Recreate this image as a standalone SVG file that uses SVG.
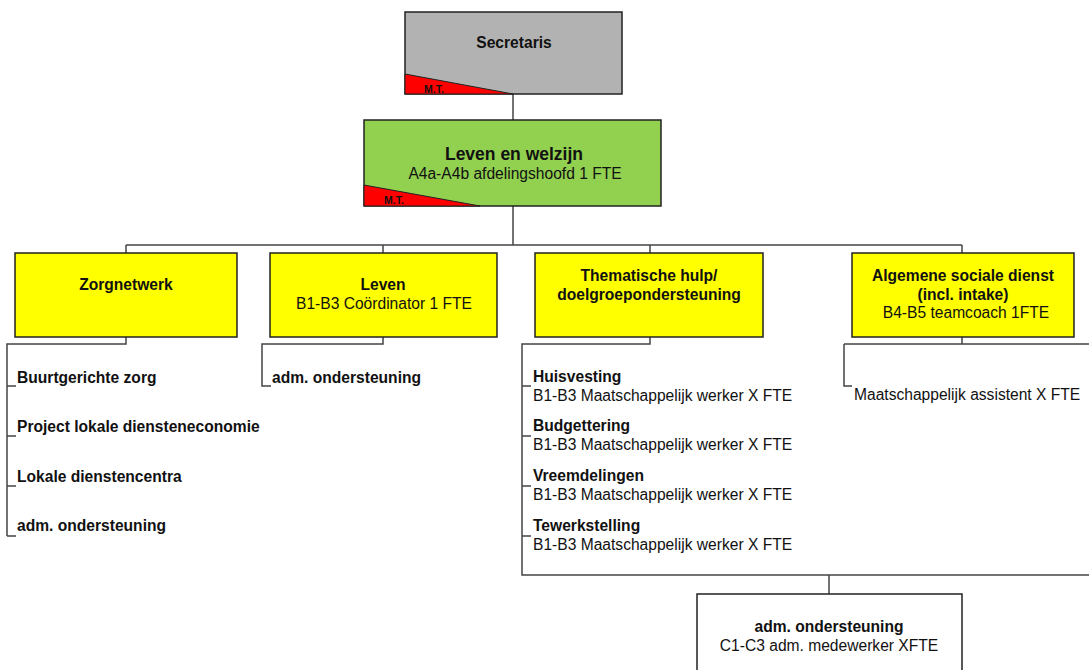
<svg xmlns="http://www.w3.org/2000/svg" width="1089" height="670" viewBox="0 0 1089 670">
<style>
.box{stroke:#222;stroke-width:1.5}
.mt{fill:#ff0000;stroke:#222;stroke-width:1}
.ln{fill:none;stroke:#444;stroke-width:1.5}
text{font-family:"Liberation Sans",Arial,sans-serif;font-size:15.6px;fill:#111}
.b{font-weight:bold}
.c{text-anchor:middle}
.s{font-size:10.5px;font-weight:bold}
</style>
<rect width="1089" height="670" fill="#fff"/>
<g id="connectors">
<path class="ln" d="M513 94V120M513 206V245M126 245H962M126 245V253M383 245V253M650 245V253M962 245V253"/>
<path class="ln" d="M126 337V344H7V536M7 386H16M7 436H16M7 486H16M7 536H16"/>
<path class="ln" d="M383 337V344H262V386H271"/>
<path class="ln" d="M650 337V344H522V575H1089M522 386H531M522 436H531M522 486H531M522 536H531M829 575V594"/>
<path class="ln" d="M962 337V344M844 344H1089M844 344V386H852"/>
</g>
<g id="secretaris">
<rect class="box" x="405" y="12" width="217" height="82" fill="#b2b2b2"/>
<polygon class="mt" points="405,74 513,94 405,94"/>
<text class="s" x="424" y="93">M.T.</text>
<text class="b c" x="514" y="48">Secretaris</text>
</g>
<g id="leven-en-welzijn">
<rect class="box" x="364" y="120" width="297" height="86" fill="#92d050"/>
<polygon class="mt" points="364,185 480,206 364,206"/>
<text class="s" x="384" y="204">M.T.</text>
<text class="b c" x="514" y="160" style="font-size:17.5px">Leven en welzijn</text>
<text class="c" x="515" y="179">A4a-A4b afdelingshoofd 1 FTE</text>
</g>
<g id="zorgnetwerk">
<rect class="box" x="15" y="253" width="222" height="84" fill="#ffff00"/>
<text class="b c" x="126" y="290">Zorgnetwerk</text>
</g>
<g id="zorgnetwerk-items">
<text class="b" x="17" y="383">Buurtgerichte zorg</text>
<text class="b" x="17" y="432">Project lokale diensteneconomie</text>
<text class="b" x="17" y="482">Lokale dienstencentra</text>
<text class="b" x="17" y="531">adm. ondersteuning</text>
</g>
<g id="leven">
<rect class="box" x="270" y="253" width="227" height="84" fill="#ffff00"/>
<text class="b c" x="383" y="290">Leven</text>
<text class="c" x="384" y="309">B1-B3 Coördinator 1 FTE</text>
</g>
<g id="leven-items">
<text class="b" x="272" y="383">adm. ondersteuning</text>
</g>
<g id="thematische">
<rect class="box" x="535" y="253" width="228" height="84" fill="#ffff00"/>
<text class="b c" x="649" y="281">Thematische hulp/</text>
<text class="b c" x="649" y="300">doelgroepondersteuning</text>
</g>
<g id="thematische-items">
<text class="b" x="533" y="382">Huisvesting</text>
<text x="533" y="401">B1-B3 Maatschappelijk werker X FTE</text>
<text class="b" x="533" y="431">Budgettering</text>
<text x="533" y="450">B1-B3 Maatschappelijk werker X FTE</text>
<text class="b" x="533" y="481">Vreemdelingen</text>
<text x="533" y="500">B1-B3 Maatschappelijk werker X FTE</text>
<text class="b" x="533" y="531">Tewerkstelling</text>
<text x="533" y="550">B1-B3 Maatschappelijk werker X FTE</text>
</g>
<g id="algemene">
<rect class="box" x="852" y="253" width="222" height="84" fill="#ffff00"/>
<text class="b c" x="963" y="281">Algemene sociale dienst</text>
<text class="b c" x="963" y="300">(incl. intake)</text>
<text class="c" x="966" y="318">B4-B5 teamcoach 1FTE</text>
</g>
<g id="algemene-items">
<text x="854" y="400">Maatschappelijk assistent X FTE</text>
</g>
<g id="adm-ondersteuning">
<rect class="box" x="697" y="594" width="265" height="90" fill="#fff"/>
<text class="b c" x="829" y="632">adm. ondersteuning</text>
<text class="c" x="829" y="651">C1-C3 adm. medewerker XFTE</text>
</g>
</svg>
